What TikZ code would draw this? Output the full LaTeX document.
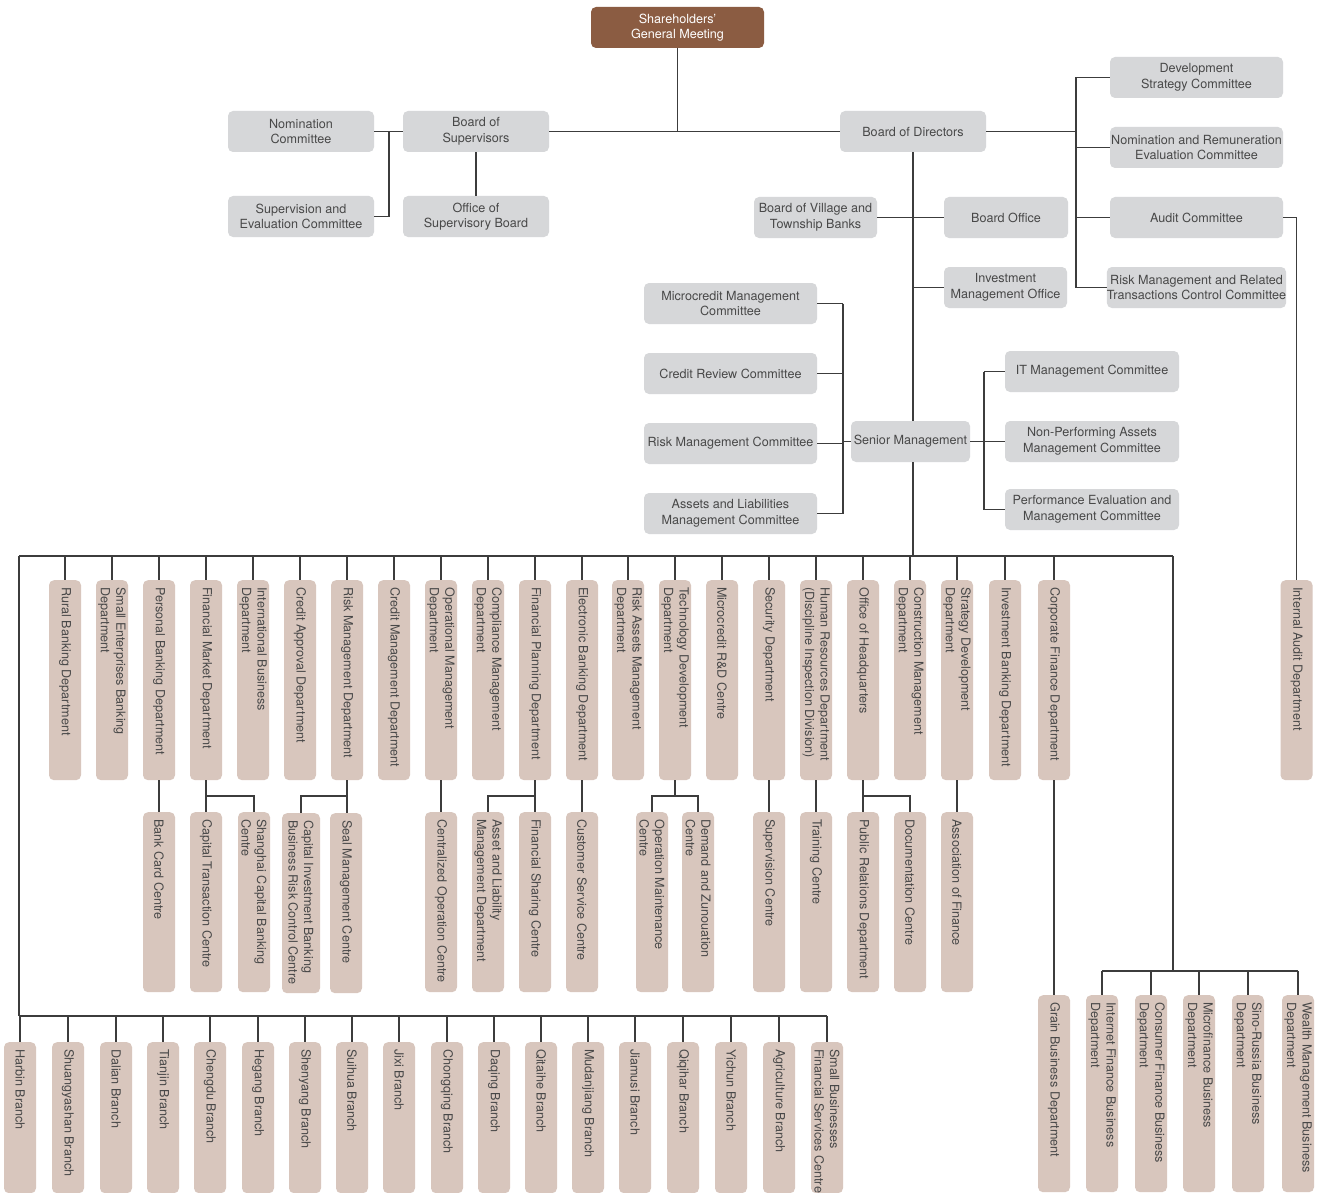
\documentclass[tikz,border=0pt]{standalone}
\usepackage{fontspec}
\setmainfont{TeX Gyre Heros}
\definecolor{boxgray}{RGB}{214,215,217}
\definecolor{boxpink}{RGB}{216,198,189}
\definecolor{boxbrown}{RGB}{139,92,66}
\definecolor{txtgray}{RGB}{72,72,72}
\definecolor{linegray}{RGB}{60,60,60}
\tikzset{
  gb/.style={rectangle, rounded corners=5pt, fill=boxgray, inner sep=0pt, align=center, text=txtgray,
     minimum height=41pt, font=\fontsize{12.6}{15.5}\selectfont},
  topbox/.style={gb, fill=boxbrown, text=white},
  vb/.style={rectangle, rounded corners=5pt, fill=boxpink, inner sep=0pt},
  vt/.style={rotate=-90, align=left, inner sep=0pt, text=txtgray, font=\fontsize{12.6}{15.5}\selectfont},
  conn/.style={draw=linegray, line width=1.1pt},
}
\newcommand\vcol[6]{%
  \node[vb, minimum width=#5pt, minimum height=#4pt, anchor=north] (#1) at (#2,#3) {};
  \node[vt, anchor=west] (#1-t) at ([yshift=-7pt]#1.north) {#6};
}
\begin{document}
\begin{tikzpicture}[x=1pt,y=-1pt]
\fill[white] (0,0) rectangle (1322,1193);
\useasboundingbox (0,0) rectangle (1322,1193);

% ---------- top boxes ----------
\node[topbox, minimum width=173pt] (sgm) at (677.5,27.5) {Shareholders'\\General Meeting};
\node[gb, minimum width=146pt] (nomc) at (301,131.5) {Nomination\\Committee};
\node[gb, minimum width=146pt] (bos) at (476,131.5) {Board of\\Supervisors};
\node[gb, minimum width=146pt] (sec) at (301,216.5) {Supervision and\\Evaluation Committee};
\node[gb, minimum width=146pt] (osb) at (476,216.5) {Office of\\Supervisory Board};
\node[gb, minimum width=146pt] (bod) at (913,131.5) {Board of Directors};
\node[gb, minimum width=173pt] (dsc) at (1196.5,77.5) {Development\\Strategy Committee};
\node[gb, minimum width=173pt] (nrec) at (1196.5,147.5) {Nomination and Remuneration\\Evaluation Committee};
\node[gb, minimum width=173pt] (audc) at (1196.5,217.5) {Audit Committee};
\node[gb, minimum width=173pt] (rmrt) at (1196.5,287.5) {Risk Management and Related\\Transactions Control Committee};
\node[gb, minimum width=123pt] (bvtb) at (815.5,217.5) {Board of Village and\\Township Banks};
\node[gb, minimum width=124pt] (bo) at (1006,217.5) {Board Office};
\node[gb, minimum width=123pt] (imo) at (1005.5,287.5) {Investment\\Management Office};
\node[gb, minimum width=173pt] (mmc) at (730.5,303.5) {Microcredit Management\\Committee};
\node[gb, minimum width=173pt] (crc) at (730.5,373.5) {Credit Review Committee};
\node[gb, minimum width=173pt] (rmc) at (730.5,443.5) {Risk Management Committee};
\node[gb, minimum width=173pt] (alm) at (730.5,513.5) {Assets and Liabilities\\Management Committee};
\node[gb, minimum width=119pt] (sm) at (910.5,441.5) {Senior Management};
\node[gb, minimum width=174pt] (itm) at (1092,371.5) {IT Management Committee};
\node[gb, minimum width=174pt] (npa) at (1092,441.5) {Non-Performing Assets\\Management Committee};
\node[gb, minimum width=174pt] (pem) at (1092,509.5) {Performance Evaluation and\\Management Committee};

% ---------- department row ----------
\vcol{d1}{65}{580}{200}{32}{Rural Banking Department}
\vcol{d2}{112}{580}{200}{32}{Small Enterprises Banking\\Department}
\vcol{d3}{159}{580}{200}{32}{Personal Banking Department}
\vcol{d4}{206}{580}{200}{32}{Financial Market Department}
\vcol{d5}{253}{580}{200}{32}{International Business\\Department}
\vcol{d6}{300}{580}{200}{32}{Credit Approval Department}
\vcol{d7}{347}{580}{200}{32}{Risk Management Department}
\vcol{d8}{394}{580}{200}{32}{Credit Management Department}
\vcol{d9}{441}{580}{200}{32}{Operational Management\\Department}
\vcol{d10}{488}{580}{200}{32}{Compliance Management\\Department}
\vcol{d11}{535}{580}{200}{32}{Financial Planning Department}
\vcol{d12}{582}{580}{200}{32}{Electronic Banking Department}
\vcol{d13}{628}{580}{200}{32}{Risk Assets Management\\Department}
\vcol{d14}{675}{580}{200}{32}{Technology Development\\Department}
\vcol{d15}{722}{580}{200}{32}{Microcredit R\&D Centre}
\vcol{d16}{769}{580}{200}{32}{Security Department}
\vcol{d17}{816}{580}{200}{32}{Human Resources Department\\(Discipline Inspection Division)}
\vcol{d18}{863}{580}{200}{32}{Office of Headquarters}
\vcol{d19}{910}{580}{200}{32}{Construction Management\\Department}
\vcol{d20}{957}{580}{200}{32}{Strategy Development\\Department}
\vcol{d21}{1005}{580}{200}{32}{Investment Banking Department}
\vcol{d22}{1054}{580}{200}{32}{Corporate Finance Department}
\vcol{iad}{1296.5}{580}{200}{32}{Internal Audit Department}

% ---------- sub row ----------
\vcol{s1}{159}{812}{180}{32}{Bank Card Centre}
\vcol{s2}{206}{812}{180}{32}{Capital Transaction Centre}
\vcol{s3}{254}{812}{180}{32}{Shanghai Capital Banking\\Centre}
\vcol{s4}{301}{813}{180}{38}{Capital Investment Banking\\Business Risk Control Centre}
\vcol{s5}{346}{813}{180}{32}{Seal Management Centre}
\vcol{s6}{441}{812}{180}{32}{Centralized Operation Centre}
\vcol{s7}{488}{812}{180}{32}{Asset and Liability\\Management Department}
\vcol{s8}{535}{812}{180}{32}{Financial Sharing Centre}
\vcol{s9}{582}{812}{180}{32}{Customer Service Centre}
\vcol{s10}{652}{812}{180}{32}{Operation Maintenance\\Centre}
\vcol{s11}{698}{812}{180}{32}{Demand and Zunouation\\Centre}
\vcol{s12}{769}{812}{180}{32}{Supervision Centre}
\vcol{s13}{816}{812}{180}{32}{Training Centre}
\vcol{s14}{863}{812}{180}{32}{Public Relations Department}
\vcol{s15}{910}{812}{180}{32}{Documentation Centre}
\vcol{s16}{957}{812}{180}{32}{Association of Finance}

% ---------- lower right ----------
\vcol{g0}{1054}{995}{197}{32}{Grain Business Department}
\vcol{r1}{1102}{995}{197}{32}{Internet Finance Business\\Department}
\vcol{r2}{1151}{995}{197}{32}{Consumer Finance Business\\Department}
\vcol{r3}{1199}{995}{197}{32}{Microfinance Business\\Department}
\vcol{r4}{1248}{995}{197}{32}{Sino-Russia Business\\Department}
\vcol{r5}{1298}{995}{197}{32}{Wealth Management Business\\Department}

% ---------- branches ----------
\vcol{b1}{20}{1042}{151}{32}{Harbin Branch}
\vcol{b2}{68}{1042}{151}{32}{Shuangyashan Branch}
\vcol{b3}{116}{1042}{151}{32}{Dalian Branch}
\vcol{b4}{163}{1042}{151}{32}{Tianjin Branch}
\vcol{b5}{210}{1042}{151}{32}{Chengdu Branch}
\vcol{b6}{258}{1042}{151}{32}{Hegang Branch}
\vcol{b7}{305}{1042}{151}{32}{Shenyang Branch}
\vcol{b8}{352}{1042}{151}{32}{Suihua Branch}
\vcol{b9}{399}{1042}{151}{32}{Jixi Branch}
\vcol{b10}{447}{1042}{151}{32}{Chongqing Branch}
\vcol{b11}{494}{1042}{151}{32}{Daqing Branch}
\vcol{b12}{541}{1042}{151}{32}{Qitaihe Branch}
\vcol{b13}{588}{1042}{151}{32}{Mudanjiang Branch}
\vcol{b14}{635}{1042}{151}{32}{Jiamusi Branch}
\vcol{b15}{683}{1042}{151}{32}{Qiqihar Branch}
\vcol{b16}{731}{1042}{151}{32}{Yichun Branch}
\vcol{b17}{779}{1042}{151}{32}{Agriculture Branch}
\vcol{b18}{827}{1042}{151}{32}{Small Businesses\\Financial Services Centre}

% ---------- coordinates ----------
\coordinate (supv) at (389,131.5);
\coordinate (bodr) at (1076,131.5);
\coordinate (scl) at (843,441.5);
\coordinate (scr) at (984,441.5);
\coordinate (busL) at (19,556);
\coordinate (busR) at (1173,556);
\coordinate (brL) at (19,1016);
\coordinate (lrbus) at (1173,971);
\coordinate (subrow) at (0,796);

% ---------- connectors ----------
\draw[conn] (sgm.south) -- (sgm.south |- bos.east);
\draw[conn] (bos.east) -- (bod.west);
\draw[conn] (nomc.east) -- (bos.west);
\draw[conn] (supv) |- (sec.east);
\draw[conn] (bos.south) -- (osb.north);
\draw[conn] (bod.east) -- (bodr);
\draw[conn] (bodr |- dsc.west) -- (bodr |- rmrt.west);
\foreach \n in {dsc,nrec,audc,rmrt} \draw[conn] (bodr |- \n.west) -- (\n.west);
\draw[conn] (audc.east) -| (iad.north);
\draw[conn] (bod.south) -- (bod.south |- sm.north);
\draw[conn] (bvtb.east) -- (bo.west);
\draw[conn] (bod.south |- imo.west) -- (imo.west);
\draw[conn] (scl |- mmc.east) -- (scl |- alm.east);
\foreach \n in {mmc,crc,rmc,alm} \draw[conn] (\n.east) -- (scl |- \n.east);
\draw[conn] (scl) -- (sm.west);
\draw[conn] (scr |- itm.west) -- (scr |- pem.west);
\foreach \n in {itm,npa,pem} \draw[conn] (scr |- \n.west) -- (\n.west);
\draw[conn] (sm.east) -- (scr);
\draw[conn] (bod.south |- sm.south) -- (bod.south |- busL);
\draw[conn] (busL) -- (busR);
\foreach \n in {d1,d2,d3,d4,d5,d6,d7,d8,d9,d10,d11,d12,d13,d14,d15,d16,d17,d18,d19,d20,d21,d22}
  \draw[conn] (\n.north |- busL) -- (\n.north);
% sub connectors
\draw[conn] (d3.south) -- (s1.north);
\draw[conn] (d4.south) -- (s2.north);
\draw[conn] (s2.north |- subrow) -| (s3.north);
\draw[conn] (d7.south) -- (d7.south |- s5.north);
\draw[conn] (d7.south |- subrow) -| (s4.north);
\draw[conn] (d9.south) -- (s6.north);
\draw[conn] (d11.south) -- (s8.north);
\draw[conn] (d11.south |- subrow) -| (s7.north);
\draw[conn] (d12.south) -- (s9.north);
\draw[conn] (d14.south) -- (d14.south |- subrow);
\draw[conn] (s10.north) |- (d14.south |- subrow) -| (s11.north);
\draw[conn] (d16.south) -- (s12.north);
\draw[conn] (d17.south) -- (s13.north);
\draw[conn] (d18.south) -- (s14.north);
\draw[conn] (d18.south |- subrow) -| (s15.north);
\draw[conn] (d20.south) -- (s16.north);
\draw[conn] (d22.south) -- (g0.north);
% branches
\draw[conn] (busL) -- (brL);
\draw[conn] (brL) -- (brL -| b18.north);
\foreach \n in {b1,b2,b3,b4,b5,b6,b7,b8,b9,b10,b11,b12,b13,b14,b15,b16,b17,b18}
  \draw[conn] (\n.north |- brL) -- (\n.north);
% lower right
\draw[conn] (busR) -- (lrbus);
\draw[conn] (lrbus -| r1.north) -- (lrbus -| r5.north);
\foreach \n in {r1,r2,r3,r4,r5}
  \draw[conn] (\n.north |- lrbus) -- (\n.north);
\end{tikzpicture}
\end{document}
